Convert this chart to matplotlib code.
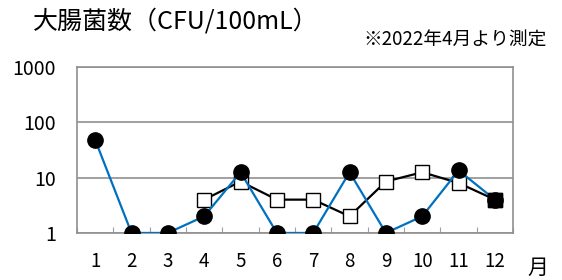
import numpy as np
import matplotlib.pyplot as plt

plt.rcParams['font.family'] = ['Noto Sans CJK JP', 'DejaVu Sans']

months = [1, 2, 3, 4, 5, 6, 7, 8, 9, 10, 11, 12]
site_a = [48, 1, 1, 2, 12.5, 1, 1, 12.5, 1, 2, 13.5, 4]
months_b = [4, 5, 6, 7, 8, 9, 10, 11, 12]
site_b = [4, 8.5, 4, 4, 2, 8.5, 12.5, 8, 4]

fig = plt.figure(figsize=(5.62, 2.8), dpi=100)
ax = fig.add_axes([0.137, 0.168, 0.776, 0.593])

ax.plot(months, site_a, color='#0070C0', lw=1.6, marker='o', ms=11,
        mfc='black', mec='black', zorder=3)
ax.plot(months_b, site_b, color='black', lw=1.6, marker='s', ms=9.5,
        mfc='white', mec='black', mew=1.0, zorder=2)
# last point drawn filled on top
ax.plot(months[-1:], site_a[-1:], marker='s', ms=9.5, color='black', ls='none', zorder=4)

ax.set_yscale('log')
ax.set_ylim(1, 1000)
ax.set_xlim(0.5, 12.5)
ax.set_yticks([1, 10, 100, 1000])
ax.set_yticklabels(['1', '10', '100', '1000'], fontsize=14)
ax.yaxis.set_minor_locator(plt.NullLocator())
ax.tick_params(axis='y', length=0, pad=15)

ax.set_xticks(np.arange(0.5, 13, 1))
ax.set_xticklabels([])
ax.set_xticks(months, minor=True)
ax.set_xticklabels([str(m) for m in months], minor=True, fontsize=13.5)
ax.tick_params(axis='x', which='major', direction='in', length=4, color='#A0A0A0')
ax.tick_params(axis='x', which='minor', length=0, pad=13)

ax.grid(axis='y', which='major', color='#909090', lw=1.2)
for s in ax.spines.values():
    s.set_color('#909090')
    s.set_linewidth(1.2)

fig.text(0.058, 0.922, '大腸菌数（CFU/100mL）', fontsize=18, va='center', ha='left')
fig.text(0.973, 0.855, '※2022年4月より測定', fontsize=13.5, va='center', ha='right')
fig.text(0.975, 0.043, '月', fontsize=15, va='center', ha='right')

fig.savefig('out.png', dpi=100)
